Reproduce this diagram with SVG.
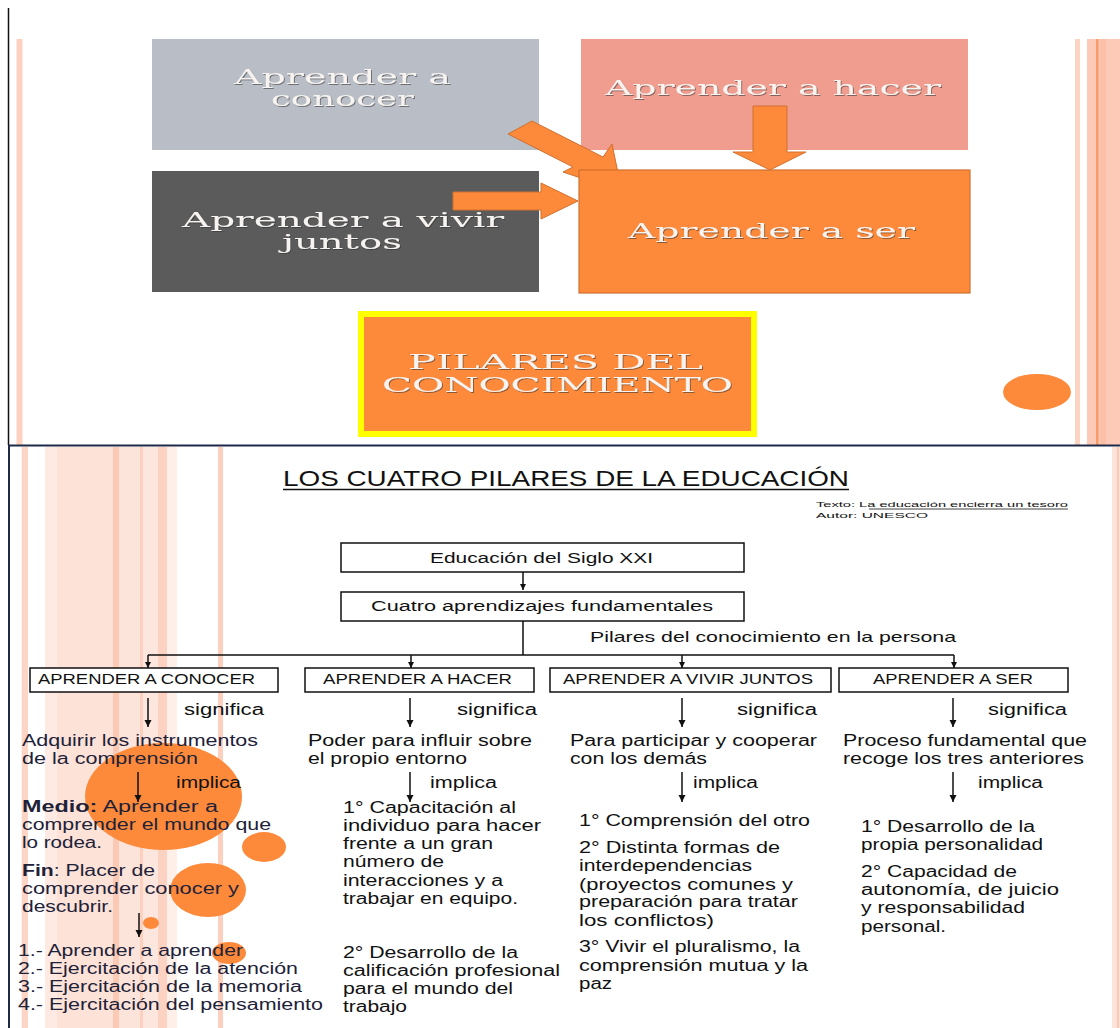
<svg xmlns="http://www.w3.org/2000/svg" width="1120" height="1028" viewBox="0 0 1120 1028">
<defs>
<style>
.serif{font-family:"DejaVu Serif","Liberation Serif",serif;font-size:21px;fill:#f6f3f0;filter:url(#emb)}
.s{font-family:"Liberation Sans",Arial,sans-serif;fill:#111}
.b16{font-size:16px}
.b14{font-size:14px}
.navy{fill:#1e2238}
.box{fill:#fff;stroke:#111;stroke-width:1.5}
.ln{stroke:#111;stroke-width:1.5;fill:none}
.blk{fill:#fd8a3b;stroke:#d0702e;stroke-width:1}
.dot{fill:#fd8a3b}
</style>
<filter id="emb" x="-5%" y="-20%" width="110%" height="140%"><feDropShadow dx="1" dy="1" stdDeviation="0.6" flood-color="#333" flood-opacity="0.55"/></filter>
<marker id="ah" markerUnits="userSpaceOnUse" markerWidth="8" markerHeight="8" refX="7" refY="3.5" orient="auto"><path d="M0,0 L7,3.5 L0,7 z" fill="#111"/></marker>
<marker id="ahs" markerUnits="userSpaceOnUse" markerWidth="7" markerHeight="7" refX="6" refY="3" orient="auto"><path d="M0,0 L6,3 L0,6 z" fill="#111"/></marker>
</defs>
<rect width="1120" height="1028" fill="#fff"/>

<!-- decorative stripes -->
<g id="stripes">
<rect x="16.5" y="39" width="6" height="406" fill="#fdd0c0"/>
<rect x="1075" y="39" width="5" height="406" fill="#fdd3c3"/>
<rect x="1087" y="39" width="33" height="406" fill="#fdcab7"/>
<rect x="1100" y="39" width="6" height="406" fill="#fcc0a9"/>
<rect x="1096" y="39" width="2.5" height="406" fill="#f99a68"/>
<rect x="21.7" y="447" width="6.3" height="581" fill="#fdd5c6"/>
<rect x="45" y="447" width="12" height="581" fill="#feeae3"/>
<rect x="57" y="447" width="56" height="581" fill="#fde2d8"/>
<rect x="113" y="447" width="6" height="581" fill="#fcc9b5"/>
<rect x="119" y="447" width="21" height="581" fill="#fde4da"/>
<rect x="140" y="447" width="3" height="581" fill="#fcd0bf"/>
<rect x="143" y="447" width="15" height="581" fill="#fde6dd"/>
<rect x="158" y="447" width="9" height="581" fill="#fcd3c3"/>
<rect x="167" y="447" width="10" height="581" fill="#feefe9"/>
<rect x="218" y="447" width="5" height="581" fill="#fdcfbe"/>
<rect x="1112" y="447" width="8" height="581" fill="#fde3d8"/>
<rect x="1117" y="447" width="2" height="581" fill="#fcc8b5"/>
</g>
<g id="borders">
<line x1="8.5" y1="8" x2="8.5" y2="445" stroke="#111" stroke-width="1.5"/>
<line x1="9" y1="445" x2="9" y2="1028" stroke="#1e2a48" stroke-width="2"/>
<line x1="8" y1="445.5" x2="1120" y2="445.5" stroke="#1e2a48" stroke-width="2"/>
</g>

<!-- top panel nodes -->
<g id="n-conocer">
<rect x="152" y="39" width="387" height="111" fill="#b9bdc5"/>
<text class="serif" x="234" y="84" textLength="217" lengthAdjust="spacingAndGlyphs">Aprender a</text>
<text class="serif" x="271" y="106" textLength="143" lengthAdjust="spacingAndGlyphs">conocer</text>
</g>
<g id="n-hacer">
<rect x="581" y="39" width="387" height="111" fill="#f09d90"/>
<text class="serif" x="605" y="95" textLength="336" lengthAdjust="spacingAndGlyphs">Aprender a hacer</text>
</g>
<g id="n-vivir">
<rect x="152" y="171" width="387" height="121" fill="#5b5b5b"/>
<text class="serif" x="182" y="227" textLength="322" lengthAdjust="spacingAndGlyphs">Aprender a vivir</text>
<text class="serif" x="282" y="249" textLength="120" lengthAdjust="spacingAndGlyphs">juntos</text>
</g>
<g id="block-arrows">
<polygon class="blk" points="532,121 603,157 612,144 622,192 563,172 573,167 508,134"/>
<polygon class="blk" points="453,192 541,192 541,183 578,201 541,219 541,210 453,210"/>
<polygon class="blk" points="753,106 787,106 787,152 806,152 770,170 733,152 753,152"/>
</g>
<g id="n-ser">
<rect x="579" y="170" width="391" height="123" fill="#fd8a3b" stroke="#d0702e" stroke-width="1.2"/>
<text class="serif" x="628" y="238" textLength="287" lengthAdjust="spacingAndGlyphs">Aprender a ser</text>
</g>
<g id="n-pilares">
<rect x="361" y="314" width="393" height="120" fill="#fd8a3b" stroke="#ffff00" stroke-width="6"/>
<text class="serif" x="408" y="369" font-size="19" textLength="295" lengthAdjust="spacingAndGlyphs">PILARES DEL</text>
<text class="serif" x="382" y="392" font-size="19" textLength="351" lengthAdjust="spacingAndGlyphs">CONOCIMIENTO</text>
</g>
<ellipse class="dot" cx="1037" cy="392" rx="34" ry="18"/>

<!-- bottom panel -->
<g id="dots">
<ellipse class="dot" cx="163.5" cy="796.5" rx="78.5" ry="53.5"/>
<ellipse class="dot" cx="264" cy="847" rx="22" ry="15"/>
<ellipse class="dot" cx="208" cy="890" rx="38" ry="27"/>
<ellipse class="dot" cx="151" cy="923" rx="8" ry="6"/>
<ellipse class="dot" cx="229" cy="953" rx="17" ry="11"/>
</g>
<g id="title">
<text class="s" x="283" y="486" font-size="22" textLength="566" lengthAdjust="spacingAndGlyphs">LOS CUATRO PILARES DE LA EDUCACIÓN</text>
<line x1="283" y1="489.5" x2="849" y2="489.5" stroke="#111" stroke-width="1.3"/>
<text class="s" x="816" y="507" font-size="8" textLength="252" lengthAdjust="spacingAndGlyphs">Texto: La educación encierra un tesoro</text>
<line x1="869" y1="509" x2="1068" y2="509" stroke="#111" stroke-width="0.8"/>
<text class="s" x="816" y="518" font-size="8" textLength="112" lengthAdjust="spacingAndGlyphs">Autor: UNESCO</text>
</g>

<g id="connectors">
<path class="ln" d="M523,572 V590" marker-end="url(#ahs)"/>
<path class="ln" d="M523,621 V655 M148,655 H954"/>
<path class="ln" d="M148,655 V668" marker-end="url(#ahs)"/>
<path class="ln" d="M411,655 V668" marker-end="url(#ahs)"/>
<path class="ln" d="M682,655 V668" marker-end="url(#ahs)"/>
<path class="ln" d="M954,655 V668" marker-end="url(#ahs)"/>
<path class="ln" d="M148,698 V727" marker-end="url(#ah)"/>
<path class="ln" d="M410,698 V727" marker-end="url(#ah)"/>
<path class="ln" d="M682,698 V727" marker-end="url(#ah)"/>
<path class="ln" d="M953,698 V727" marker-end="url(#ah)"/>
<path class="ln" d="M138,772 V802" marker-end="url(#ah)"/>
<path class="ln" d="M410,772 V802" marker-end="url(#ah)"/>
<path class="ln" d="M682,772 V802" marker-end="url(#ah)"/>
<path class="ln" d="M953,772 V802" marker-end="url(#ah)"/>
<path class="ln" d="M139,913 V937" marker-end="url(#ah)"/>
</g>

<g id="n-edu">
<rect class="box" x="341" y="543" width="403" height="29"/>
<text class="s" x="430" y="563" font-size="14" textLength="223" lengthAdjust="spacingAndGlyphs">Educación del Siglo XXI</text>
</g>
<g id="n-cuatro">
<rect class="box" x="341" y="592" width="403" height="29"/>
<text class="s" x="371" y="611" font-size="14" textLength="342" lengthAdjust="spacingAndGlyphs">Cuatro aprendizajes fundamentales</text>
</g>
<text class="s" x="590" y="642" font-size="15" textLength="366" lengthAdjust="spacingAndGlyphs">Pilares del conocimiento en la persona</text>

<g id="n-b-conocer">
<rect class="box" x="30" y="668" width="248" height="24"/>
<text class="s b14" x="38" y="684" textLength="217" lengthAdjust="spacingAndGlyphs">APRENDER A CONOCER</text>
</g>
<g id="n-b-hacer">
<rect class="box" x="305" y="668" width="229" height="24"/>
<text class="s b14" x="323" y="684" textLength="189" lengthAdjust="spacingAndGlyphs">APRENDER A HACER</text>
</g>
<g id="n-b-vivir">
<rect class="box" x="550" y="668" width="281" height="24"/>
<text class="s b14" x="563" y="684" textLength="250" lengthAdjust="spacingAndGlyphs">APRENDER A VIVIR JUNTOS</text>
</g>
<g id="n-b-ser">
<rect class="box" x="839" y="668" width="229" height="24"/>
<text class="s b14" x="873" y="684" textLength="160" lengthAdjust="spacingAndGlyphs">APRENDER A SER</text>
</g>

<g id="col-conocer" class="s b16">
<text x="184" y="715" textLength="80" lengthAdjust="spacingAndGlyphs">significa</text>
<text class="navy" x="22" y="746" textLength="236" lengthAdjust="spacingAndGlyphs">Adquirir los instrumentos</text>
<text class="navy" x="22" y="764" textLength="176" lengthAdjust="spacingAndGlyphs">de la comprensión</text>
<text x="176" y="788" textLength="65" lengthAdjust="spacingAndGlyphs">implica</text>
<text class="navy" x="22" y="812" textLength="196" lengthAdjust="spacingAndGlyphs"><tspan font-weight="bold">Medio:</tspan>  Aprender  a</text>
<text class="navy" x="22" y="830" textLength="249" lengthAdjust="spacingAndGlyphs">comprender el mundo que</text>
<text class="navy" x="22" y="848" textLength="80" lengthAdjust="spacingAndGlyphs">lo rodea.</text>
<text class="navy" x="22" y="876" textLength="133" lengthAdjust="spacingAndGlyphs"><tspan font-weight="bold">Fin</tspan>: Placer de</text>
<text class="navy" x="22" y="894" textLength="217" lengthAdjust="spacingAndGlyphs">comprender conocer y</text>
<text class="navy" x="22" y="912" textLength="91" lengthAdjust="spacingAndGlyphs">descubrir.</text>
<text class="navy" x="18" y="956" textLength="225" lengthAdjust="spacingAndGlyphs">1.- Aprender  a aprender</text>
<text class="navy" x="18" y="974" textLength="280" lengthAdjust="spacingAndGlyphs">2.- Ejercitación de la atención</text>
<text class="navy" x="18" y="992" textLength="284" lengthAdjust="spacingAndGlyphs">3.- Ejercitación de la memoria</text>
<text class="navy" x="18" y="1010" textLength="305" lengthAdjust="spacingAndGlyphs">4.- Ejercitación del pensamiento</text>
</g>

<g id="col-hacer" class="s b16">
<text x="457" y="715" textLength="80" lengthAdjust="spacingAndGlyphs">significa</text>
<text x="308" y="746" textLength="224" lengthAdjust="spacingAndGlyphs">Poder para  influir sobre</text>
<text x="308" y="764" textLength="159" lengthAdjust="spacingAndGlyphs">el propio entorno</text>
<text x="430" y="788" textLength="67" lengthAdjust="spacingAndGlyphs">implica</text>
<text x="343" y="813" textLength="173" lengthAdjust="spacingAndGlyphs">1° Capacitación al</text>
<text x="343" y="831" textLength="198" lengthAdjust="spacingAndGlyphs">individuo para  hacer</text>
<text x="343" y="849" textLength="150" lengthAdjust="spacingAndGlyphs">frente a un gran</text>
<text x="343" y="867" textLength="101" lengthAdjust="spacingAndGlyphs">número de</text>
<text x="343" y="886" textLength="160" lengthAdjust="spacingAndGlyphs">interacciones y a</text>
<text x="343" y="904" textLength="175" lengthAdjust="spacingAndGlyphs">trabajar en equipo.</text>
<text x="343" y="958" textLength="175" lengthAdjust="spacingAndGlyphs">2° Desarrollo de la</text>
<text x="343" y="976" textLength="217" lengthAdjust="spacingAndGlyphs">calificación profesional</text>
<text x="343" y="994" textLength="170" lengthAdjust="spacingAndGlyphs">para el mundo del</text>
<text x="343" y="1012" textLength="64" lengthAdjust="spacingAndGlyphs">trabajo</text>
</g>

<g id="col-vivir" class="s b16">
<text x="737" y="715" textLength="80" lengthAdjust="spacingAndGlyphs">significa</text>
<text x="570" y="746" textLength="247" lengthAdjust="spacingAndGlyphs">Para participar y cooperar</text>
<text x="570" y="764" textLength="137" lengthAdjust="spacingAndGlyphs">con los demás</text>
<text x="693" y="788" textLength="65" lengthAdjust="spacingAndGlyphs">implica</text>
<text x="579" y="826" textLength="231" lengthAdjust="spacingAndGlyphs">1° Comprensión del otro</text>
<text x="579" y="853" textLength="201" lengthAdjust="spacingAndGlyphs">2° Distinta formas de</text>
<text x="579" y="871" textLength="173" lengthAdjust="spacingAndGlyphs">interdependencias</text>
<text x="579" y="890" textLength="214" lengthAdjust="spacingAndGlyphs">(proyectos comunes y</text>
<text x="579" y="907" textLength="219" lengthAdjust="spacingAndGlyphs">preparación  para tratar</text>
<text x="579" y="926" textLength="135" lengthAdjust="spacingAndGlyphs">los conflictos)</text>
<text x="579" y="952" textLength="221" lengthAdjust="spacingAndGlyphs">3° Vivir el pluralismo, la</text>
<text x="579" y="971" textLength="229" lengthAdjust="spacingAndGlyphs">comprensión  mutua y la</text>
<text x="579" y="989" textLength="33" lengthAdjust="spacingAndGlyphs">paz</text>
</g>

<g id="col-ser" class="s b16">
<text x="988" y="715" textLength="79" lengthAdjust="spacingAndGlyphs">significa</text>
<text x="843" y="746" textLength="244" lengthAdjust="spacingAndGlyphs">Proceso fundamental que</text>
<text x="843" y="764" textLength="241" lengthAdjust="spacingAndGlyphs">recoge los tres anteriores</text>
<text x="978" y="788" textLength="65" lengthAdjust="spacingAndGlyphs">implica</text>
<text x="861" y="832" textLength="174" lengthAdjust="spacingAndGlyphs">1° Desarrollo de la</text>
<text x="861" y="850" textLength="182" lengthAdjust="spacingAndGlyphs">propia personalidad</text>
<text x="861" y="877" textLength="156" lengthAdjust="spacingAndGlyphs">2° Capacidad de</text>
<text x="861" y="895" textLength="198" lengthAdjust="spacingAndGlyphs">autonomía,  de juicio</text>
<text x="861" y="913" textLength="164" lengthAdjust="spacingAndGlyphs">y responsabilidad</text>
<text x="861" y="932" textLength="85" lengthAdjust="spacingAndGlyphs">personal.</text>
</g>
</svg>
